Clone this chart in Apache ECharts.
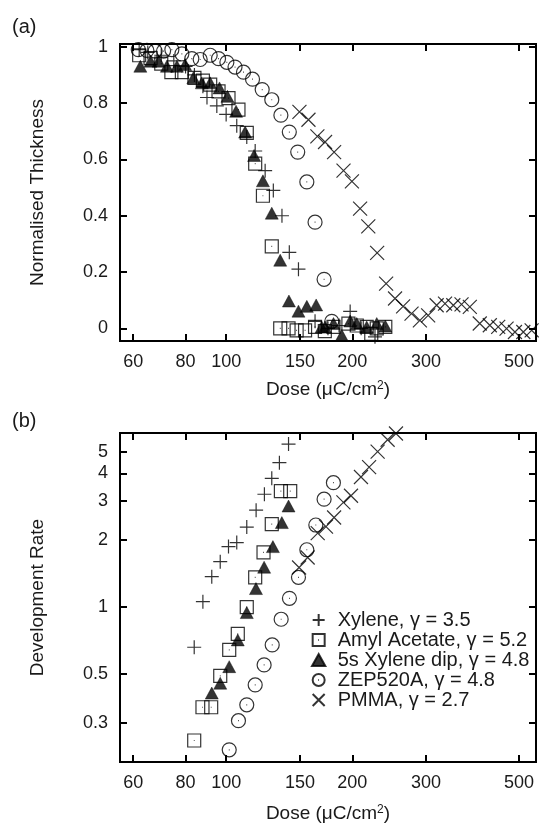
<!DOCTYPE html>
<html>
<head>
<meta charset="utf-8">
<script src="https://cdn.jsdelivr.net/npm/echarts@6/dist/echarts.min.js"></script>
<style>
html,body{margin:0;padding:0;background:#fff;}
#chart{width:539px;height:825px;}
</style>
</head>
<body>
<div id="chart"></div>
<script>
// ---------- data ----------
var seriesNames = ['Xylene, \u03b3 = 3.5', 'Amyl Acetate, \u03b3 = 5.2', '5s Xylene dip, \u03b3 = 4.8', 'ZEP520A, \u03b3 = 4.8', 'PMMA, \u03b3 = 2.7'];

// (a) dose (uC/cm2), normalised thickness
var xyleneA = [[62,0.99],[65,0.98],[70,0.97],[75,0.95],[80,0.93],[84,0.9],[88,0.86],[90,0.82],[95,0.79],[100,0.76],[106,0.72],[112,0.68],[117.3,0.63],[123.9,0.56],[129.6,0.49],[135.9,0.4],[141.5,0.27],[148.8,0.21],[163,0.025],[175,0.0],[186,0.01],[197.7,0.06],[210,0.0],[226.6,-0.03]];
var amylA = [[62,0.97],[66,0.96],[70,0.94],[74,0.91],[78.4,0.91],[84,0.89],[88,0.88],[91.6,0.866],[95.9,0.842],[101.3,0.818],[107,0.777],[112,0.694],[117.3,0.585],[122.4,0.471],[128.5,0.291],[134.6,0.0],[140.9,0.0],[147.3,-0.007],[154.3,-0.007],[163,0.005],[172,-0.01],[180.4,0.005],[195.8,0.017],[205,0.01],[216.5,0.005],[222,-0.02],[228.8,0.0],[239.8,0.005]];
var dipA = [[62.4,0.931],[66,0.949],[69,0.949],[72.2,0.931],[76.3,0.931],[79.8,0.937],[83.5,0.89],[87.5,0.872],[91.6,0.872],[96.4,0.854],[100.7,0.824],[105.6,0.771],[111,0.697],[116.6,0.614],[122.4,0.524],[128.5,0.409],[134.6,0.242],[141.2,0.097],[148.8,0.061],[155.8,0.078],[164,0.083],[169,0.005],[172.2,0.005],[180.4,0.017],[188.8,-0.025],[197.7,0.026],[205,0.017],[216.5,0.005],[228.8,0.017],[239.8,0.008]];
var zepA = [[61.7,0.99],[64.7,0.987],[67.7,0.985],[70.9,0.985],[74.2,0.99],[78.4,0.975],[82.8,0.958],[86.7,0.955],[91.6,0.97],[95.9,0.958],[100.4,0.945],[105,0.928],[110,0.91],[115.6,0.885],[121.9,0.848],[128.5,0.812],[135.1,0.757],[141.5,0.697],[148.2,0.626],[155.8,0.52],[163,0.377],[171.3,0.174],[178.7,0.025]];
var pmmaA = [[149.6,0.769],[157.2,0.741],[165.1,0.682],[172.2,0.662],[181,0.626],[190.6,0.56],[199.6,0.522],[208.8,0.425],[218.4,0.362],[229.3,0.268],[240.9,0.159],[253,0.106],[264.5,0.078],[277,0.052],[290,0.028],[303.5,0.046],[318,0.082],[333,0.088],[348.5,0.082],[364.6,0.085],[381.6,0.076],[403,0.017],[425.9,0.011],[446,0.005],[467,-0.001],[489,-0.013],[512,-0.013],[536,-0.007]];

// (b) dose (uC/cm2), development rate
var xyleneB = [[83.9,0.658],[88,1.056],[92.4,1.369],[96.8,1.6],[101.3,1.87],[106,1.95],[112,2.29],[117.9,2.73],[123.4,3.22],[128.5,3.8],[134,4.47],[140.9,5.42]];
var amylB = [[83.9,0.25],[87.8,0.353],[92.1,0.353],[96.8,0.489],[101.7,0.64],[106.6,0.756],[112,0.997],[117.3,1.36],[122.8,1.76],[128.5,2.36],[135.1,3.33],[142.2,3.33]];
var dipB = [[92.4,0.409],[96.8,0.453],[101.7,0.538],[106.6,0.71],[112,0.943],[117.8,1.21],[123.2,1.51],[129.3,1.87],[135.8,2.4],[140.9,2.85]];
var zepB = [[101.7,0.227],[107,0.307],[112,0.362],[117.3,0.445],[123.2,0.548],[128.8,0.674],[135.3,0.88],[141.6,1.094],[148.8,1.36],[155.8,1.81],[163.7,2.34],[171.3,3.06],[180.3,3.63]];
var pmmaB = [[149.3,1.506],[156.5,1.67],[165.4,2.15],[173.1,2.3],[181,2.53],[190.5,2.96],[198.6,3.17],[209.8,3.85],[219.4,4.27],[229.9,5.01],[242.9,5.67],[254.3,6.05]];

// tick labels
var doseTicks = [60, 80, 100, 150, 200, 300, 500];
var thickTicks = [0, 0.2, 0.4, 0.6, 0.8, 1];
var rateTicks = [0.3, 0.5, 1, 2, 3, 4, 5];

// ---------- build ----------
var L = Math.log10;
var FONT = '"Liberation Sans", Arial, Helvetica, sans-serif';
var TXT = '#1a1a1a';

var doseMin = L(55.8), doseMax = L(549);
var rateMin = L(0.2), rateMax = 0.784;

var sym = {
  plus: 'path://M0,5L10,5M5,0L5,10',
  square: 'path://M0,0L10,0L10,10L0,10Z M4.7,5L5.3,5',
  triangle: 'path://M5,0L10,9L0,9Z',
  circle: 'path://M10,5A5,5 0 1 1 0,5A5,5 0 1 1 10,5Z M4.7,5L5.3,5',
  cross: 'path://M0,0L10,10M10,0L0,10'
};
var styles = [
  {symbol: sym.plus, symbolSize: 14, itemStyle: {color: 'rgba(0,0,0,0)', borderColor: '#000', borderWidth: 1.2}},
  {symbol: sym.square, symbolSize: 13, itemStyle: {color: 'rgba(0,0,0,0)', borderColor: '#000', borderWidth: 1.2}},
  {symbol: sym.triangle, symbolSize: [13, 12], itemStyle: {color: '#000', borderColor: '#000', borderWidth: 0.5}},
  {symbol: sym.circle, symbolSize: 14, itemStyle: {color: 'rgba(0,0,0,0)', borderColor: '#000', borderWidth: 1.2}},
  {symbol: sym.cross, symbolSize: 14, itemStyle: {color: 'rgba(0,0,0,0)', borderColor: '#000', borderWidth: 1.2}}
];
var legendIcons = [sym.plus, sym.square, sym.triangle, sym.circle, sym.cross];

function logX(arr) { return arr.map(function (p) { return [L(p[0]), p[1]]; }); }
function logXY(arr) { return arr.map(function (p) { return [L(p[0]), L(p[1])]; }); }

var dataA = [xyleneA, amylA, dipA, zepA, pmmaA];
var dataB = [xyleneB, amylB, dipB, zepB, pmmaB];

var series = [];
dataA.forEach(function (d, i) {
  series.push(Object.assign({
    type: 'scatter', name: seriesNames[i], xAxisIndex: 0, yAxisIndex: 0,
    data: logX(d), clip: false, silent: true
  }, styles[i]));
});
dataB.forEach(function (d, i) {
  series.push(Object.assign({
    type: 'scatter', name: seriesNames[i], xAxisIndex: 2, yAxisIndex: 2,
    data: logXY(d), clip: false, silent: true
  }, styles[i]));
});

var tickStyle = {inside: true, length: 7, lineStyle: {color: '#000', width: 2}};
var labelStyle = {color: TXT, fontSize: 18, fontFamily: FONT};
var nameStyle = {color: TXT, fontSize: 19, fontFamily: FONT, rich: {sup: {fontSize: 12, verticalAlign: 'top', color: TXT, fontFamily: FONT, padding: [0, 0, 8, 0]}}};

var logDoseTicks = doseTicks.map(L);
var logRateTicks = rateTicks.map(L);

function xAxisDef(grid, pos, withLabels) {
  return {
    type: 'value', gridIndex: grid, position: pos, min: doseMin, max: doseMax,
    axisLine: {show: false, onZero: false},
    splitLine: {show: false},
    axisTick: Object.assign({customValues: logDoseTicks}, tickStyle),
    axisLabel: Object.assign({show: withLabels, customValues: logDoseTicks, margin: 12,
      formatter: function (v) { return String(Math.round(Math.pow(10, v))); }}, labelStyle),
    name: withLabels ? 'Dose (\u03bcC/cm{sup|2})' : '',
    nameLocation: 'middle', nameGap: grid === 0 ? 39 : 42, nameTextStyle: nameStyle
  };
}
function yAxisA(pos, withLabels) {
  return {
    type: 'value', gridIndex: 0, position: pos, min: -0.045, max: 1.01,
    axisLine: {show: false, onZero: false},
    splitLine: {show: false},
    axisTick: Object.assign({customValues: thickTicks}, tickStyle),
    axisLabel: Object.assign({show: withLabels, customValues: thickTicks, margin: 12,
      formatter: function (v) { return String(Math.round(v * 10) / 10); }}, labelStyle),
    name: withLabels ? 'Normalised Thickness' : '',
    nameLocation: 'middle', nameGap: 73, nameRotate: 90, nameTextStyle: nameStyle
  };
}
function yAxisB(pos, withLabels) {
  return {
    type: 'value', gridIndex: 1, position: pos, min: rateMin, max: rateMax,
    axisLine: {show: false, onZero: false},
    splitLine: {show: false},
    axisTick: Object.assign({customValues: logRateTicks}, tickStyle),
    axisLabel: Object.assign({show: withLabels, customValues: logRateTicks, margin: 12,
      formatter: function (v) { return String(Math.round(Math.pow(10, v) * 10) / 10); }}, labelStyle),
    name: withLabels ? 'Development Rate' : '',
    nameLocation: 'middle', nameGap: 73, nameRotate: 90, nameTextStyle: nameStyle
  };
}

var option = {
  backgroundColor: '#fff',
  animation: false,
  textStyle: {fontFamily: FONT},
  grid: [
    {left: 120, top: 44, width: 416, height: 297, show: true, borderColor: '#000', borderWidth: 2, backgroundColor: 'transparent'},
    {left: 120, top: 433, width: 416, height: 329, show: true, borderColor: '#000', borderWidth: 2, backgroundColor: 'transparent'}
  ],
  xAxis: [xAxisDef(0, 'bottom', true), xAxisDef(0, 'top', false), xAxisDef(1, 'bottom', true), xAxisDef(1, 'top', false)],
  yAxis: [yAxisA('left', true), yAxisA('right', false), yAxisB('left', true), yAxisB('right', false)],
  legend: {
    orient: 'vertical', left: 306, top: 605, itemWidth: 28, itemHeight: 12, itemGap: 0,
    selectedMode: false,
    textStyle: {color: TXT, fontSize: 20, fontFamily: FONT, lineHeight: 20, padding: [0, 0, 0, 0]},
    data: seriesNames.map(function (n, i) { return {name: n, icon: legendIcons[i]}; })
  },
  graphic: [
    {type: 'text', left: 12, top: 17, style: {text: '(a)', fontSize: 20, fontFamily: FONT, fill: TXT}},
    {type: 'text', left: 12, top: 411, style: {text: '(b)', fontSize: 20, fontFamily: FONT, fill: TXT}}
  ],
  series: series
};

var chart = echarts.init(document.getElementById('chart'), null, {renderer: 'canvas'});
chart.setOption(option);
</script>
</body>
</html>
